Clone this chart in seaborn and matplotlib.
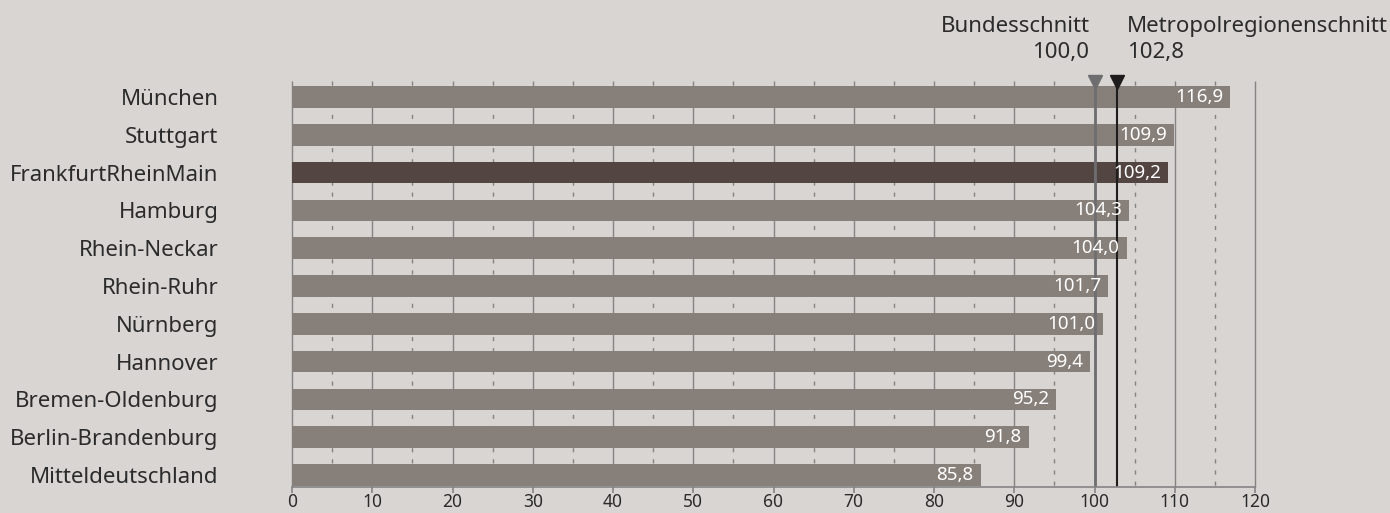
import matplotlib
matplotlib.use("Agg")
import matplotlib.pyplot as plt
import seaborn as sns
import numpy as np
import pandas as pd

regions = ["München", "Stuttgart", "FrankfurtRheinMain", "Hamburg", "Rhein-Neckar",
           "Rhein-Ruhr", "Nürnberg", "Hannover", "Bremen-Oldenburg",
           "Berlin-Brandenburg", "Mitteldeutschland"]
values = [116.9, 109.9, 109.2, 104.3, 104.0, 101.7, 101.0, 99.4, 95.2, 91.8, 85.8]
highlight = "FrankfurtRheinMain"
bund_value = 100.0
metro_value = 102.8
bund_label = "Bundesschnitt"
metro_label = "Metropolregionenschnitt"
xticks = list(range(0, 121, 10))
minor_ticks = list(range(5, 120, 10))

BG = "#d8d5d2"
BAR = "#877f7a"
HIGH = "#524542"
GRID = "#858383"
TXT = "#2b2b2b"

sns.set_theme(style="white")
plt.rcParams["font.family"] = ["Noto Sans", "DejaVu Sans"]

df = pd.DataFrame({"region": regions, "value": values})
palette = {r: (HIGH if r == highlight else BAR) for r in regions}

fig = plt.figure(figsize=(13.9, 5.13), dpi=100, facecolor=BG)
ax = fig.add_axes([292/1390, 1-487/513, (1255-292)/1390, (487-70)/513])
ax.set_facecolor(BG)

ylo, yhi = 10.317, -0.714
grid_top = -0.423
ax.vlines(xticks, grid_top, ylo, colors=GRID, linewidth=1.0, zorder=0, clip_on=False)
ax.vlines(minor_ticks, grid_top, ylo, colors=GRID, linewidth=1.0,
          linestyles=(0, (3, 5)), zorder=0)

sns.barplot(data=df, x="value", y="region", hue="region", palette=palette,
            legend=False, width=0.57, saturation=1, linewidth=0, ax=ax, zorder=2)

for i, v in enumerate(values):
    ax.annotate(f"{v:.1f}".replace(".", ","), xy=(v, i), xytext=(-7, 0),
                textcoords="offset pixels", ha="right", va="center",
                color="white", fontsize=13.5, zorder=4)

ax.vlines([bund_value], grid_top, ylo, colors="#6e6e71", linewidth=2.0, zorder=3)
ax.vlines([metro_value], grid_top, ylo, colors="#1e1c1c", linewidth=1.5, zorder=3)
ax.plot([bund_value], [-0.40], marker="v", markersize=10, color="#6e6e71",
        linestyle="none", zorder=5, clip_on=False)
ax.plot([metro_value], [-0.40], marker="v", markersize=10, color="#1e1c1c",
        linestyle="none", zorder=5, clip_on=False)

for txt, yy in [(bund_label, 481), (f"{bund_value:.1f}".replace(".", ","), 455)]:
    ax.annotate(txt, xy=(bund_value, yy), xycoords=("data", "figure pixels"),
                xytext=(-5, 0), textcoords="offset pixels", ha="right",
                va="baseline", fontsize=16, color=TXT, annotation_clip=False)
for txt, yy in [(metro_label, 481), (f"{metro_value:.1f}".replace(".", ","), 455)]:
    ax.annotate(txt, xy=(metro_value, yy), xycoords=("data", "figure pixels"),
                xytext=(10, 0), textcoords="offset pixels", ha="left",
                va="baseline", fontsize=16, color=TXT, annotation_clip=False)

ax.set_xlim(0, 120)
ax.set_ylim(ylo, yhi)
ax.set_xticks(xticks)
ax.set_xticklabels([str(t) for t in xticks])
ax.set_xlabel("")
ax.set_ylabel("")
for s in ax.spines.values():
    s.set_visible(False)
ax.spines["bottom"].set_visible(True)
ax.spines["bottom"].set_color(GRID)
ax.spines["bottom"].set_linewidth(1.2)
ax.spines["bottom"].set_zorder(6)
ax.tick_params(axis="x", bottom=True, length=4, width=1.2, color=GRID,
               labelsize=12.5, labelcolor=TXT, pad=0.5)
ax.tick_params(axis="y", left=False, length=0, pad=53, labelsize=16, labelcolor=TXT)

fig.savefig("out.png", dpi=100, facecolor=BG)
